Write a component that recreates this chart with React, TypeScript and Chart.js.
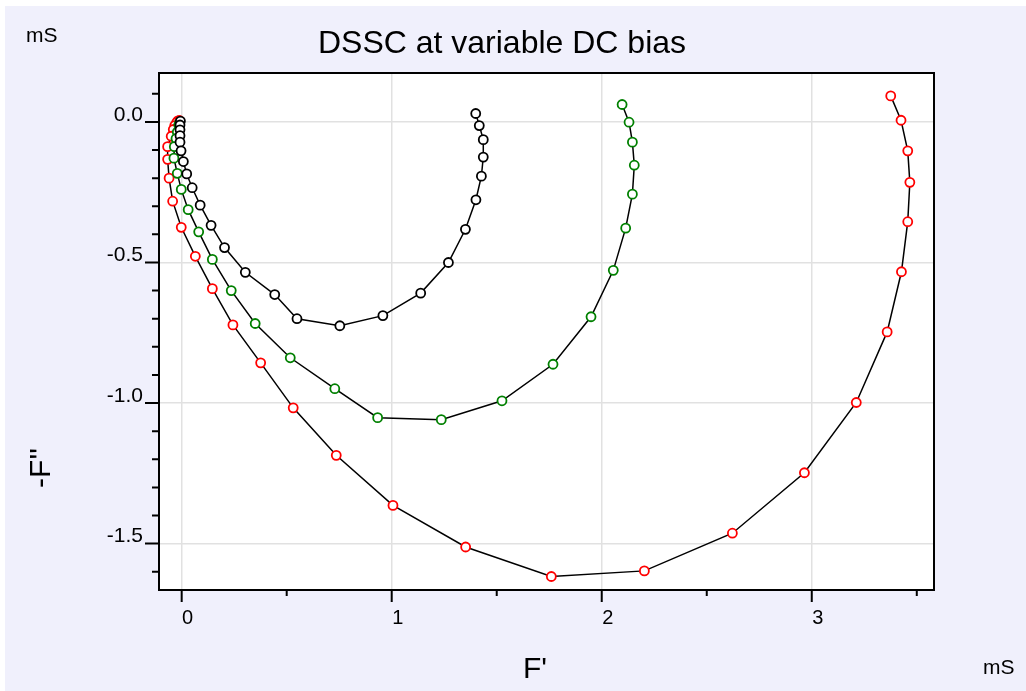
import { useEffect, useRef } from 'react';
import { Chart, registerables } from 'chart.js';

Chart.register(...registerables);

// Series (F' in mS, -F'' in mS)
const blackX = [-0.006, -0.008, -0.008, -0.008, -0.008, -0.003, 0.008, 0.024, 0.05, 0.088, 0.14, 0.204, 0.303, 0.443, 0.549, 0.753, 0.958, 1.138, 1.27, 1.351, 1.401, 1.427, 1.436, 1.436, 1.417, 1.4];
const blackY = [0.003, -0.011, -0.028, -0.049, -0.072, -0.103, -0.141, -0.185, -0.234, -0.296, -0.368, -0.447, -0.535, -0.614, -0.7, -0.725, -0.689, -0.609, -0.5, -0.382, -0.277, -0.193, -0.125, -0.063, -0.013, 0.03];

const greenX = [-0.01, -0.014, -0.021, -0.027, -0.035, -0.037, -0.021, -0.002, 0.031, 0.081, 0.146, 0.236, 0.35, 0.517, 0.729, 0.933, 1.236, 1.525, 1.768, 1.949, 2.055, 2.114, 2.146, 2.155, 2.146, 2.13, 2.097];
const greenY = [-0.003, -0.011, -0.036, -0.059, -0.088, -0.129, -0.183, -0.24, -0.312, -0.391, -0.489, -0.6, -0.717, -0.839, -0.949, -1.052, -1.059, -0.992, -0.862, -0.693, -0.528, -0.378, -0.257, -0.154, -0.072, -0.001, 0.062];

const redX = [-0.011, -0.018, -0.024, -0.033, -0.04, -0.05, -0.067, -0.067, -0.06, -0.043, -0.002, 0.065, 0.146, 0.244, 0.376, 0.531, 0.736, 1.006, 1.352, 1.76, 2.203, 2.622, 2.965, 3.212, 3.359, 3.427, 3.457, 3.467, 3.457, 3.425, 3.376];
const redY = [0.005, 0.004, -0.002, -0.013, -0.027, -0.051, -0.088, -0.133, -0.2, -0.282, -0.375, -0.478, -0.593, -0.722, -0.857, -1.017, -1.186, -1.364, -1.512, -1.617, -1.597, -1.463, -1.248, -0.998, -0.747, -0.533, -0.355, -0.215, -0.103, 0.006, 0.0925];

const titleText = 'DSSC at variable DC bias';
const xTitle = "F'";
const yTitle = "-F''";
const unitText = 'mS';

const xMin = -0.108;
const xMax = 3.582;
const yMin = -1.665;
const yMax = 0.174;

const FONT = '"Liberation Sans", Arial, Helvetica, sans-serif';

const toPoints = (xs: number[], ys: number[]) => xs.map((x, i) => ({ x, y: ys[i] }));

const isMult = (v: number, step: number) => Math.abs(v / step - Math.round(v / step)) < 1e-6;

const decoPlugin = {
  id: 'deco',
  beforeDraw(chart: any) {
    const { ctx, chartArea: a } = chart;
    ctx.save();
    ctx.fillStyle = '#ffffff';
    ctx.fillRect(a.left, a.top, a.right - a.left, a.bottom - a.top);
    ctx.restore();
  },
  afterDraw(chart: any) {
    const { ctx, chartArea: a } = chart;
    const xs = chart.scales.x;
    const ys = chart.scales.y;
    ctx.save();
    // border box
    ctx.strokeStyle = '#000';
    ctx.lineWidth = 2;
    ctx.strokeRect(a.left, a.top, a.right - a.left, a.bottom - a.top);
    // tick marks
    ctx.lineWidth = 2;
    ctx.beginPath();
    xs.ticks.forEach((t: any) => {
      const px = xs.getPixelForValue(t.value);
      const len = isMult(t.value, 1) ? 12 : 6;
      ctx.moveTo(px, a.bottom);
      ctx.lineTo(px, a.bottom + len);
    });
    ys.ticks.forEach((t: any) => {
      const py = ys.getPixelForValue(t.value);
      const len = isMult(t.value, 0.5) ? 14 : 7;
      ctx.moveTo(a.left, py);
      ctx.lineTo(a.left - len, py);
    });
    ctx.stroke();
    // texts
    ctx.fillStyle = '#000';
    ctx.textBaseline = 'alphabetic';
    ctx.font = `32px ${FONT}`;
    ctx.textAlign = 'center';
    ctx.fillText(titleText, 497, 47);
    ctx.font = `21px ${FONT}`;
    ctx.textAlign = 'left';
    ctx.fillText(unitText, 21, 36);
    ctx.fillText(unitText, 978, 668);
    ctx.font = `30px ${FONT}`;
    ctx.fillText(xTitle, 518, 672);
    ctx.translate(45, 462);
    ctx.rotate(-Math.PI / 2);
    ctx.textAlign = 'center';
    ctx.fillText(yTitle, 0, 0);
    ctx.restore();
  },
};

export default function App() {
  const ref = useRef<HTMLCanvasElement | null>(null);

  useEffect(() => {
    if (!ref.current) return;
    const lineCommon = {
      showLine: true,
      borderColor: '#000000',
      borderWidth: 1.5,
      pointRadius: 4.5,
      pointBorderWidth: 1.8,
      pointBackgroundColor: '#ffffff',
      pointHoverRadius: 4.5,
    };
    const chart = new Chart(ref.current, {
      type: 'scatter',
      data: {
        datasets: [
          { ...lineCommon, label: 'black', data: toPoints(blackX, blackY), pointBorderColor: '#000000' },
          { ...lineCommon, label: 'green', data: toPoints(greenX, greenY), pointBorderColor: '#008000' },
          { ...lineCommon, label: 'red', data: toPoints(redX, redY), pointBorderColor: '#ff0000' },
        ],
      },
      options: {
        animation: false,
        responsive: false,
        events: [],
        layout: { padding: { left: 0, top: 67, right: 92, bottom: 0 } },
        plugins: { legend: { display: false }, title: { display: false }, tooltip: { enabled: false } },
        scales: {
          x: {
            type: 'linear',
            min: xMin,
            max: xMax,
            afterFit: (s: any) => { s.height = 101; },
            border: { display: false },
            grid: {
              drawTicks: false,
              lineWidth: 1.5,
              color: (c: any) => (c.tick && isMult(c.tick.value, 1) ? '#e1e1e1' : 'rgba(0,0,0,0)'),
            },
            ticks: {
              stepSize: 0.5,
              includeBounds: false,
              autoSkip: false,
              maxRotation: 0,
              padding: 16,
              labelOffset: 6,
              color: '#000',
              font: { family: FONT, size: 20 },
              callback: (v: any) => (isMult(Number(v), 1) ? String(Math.round(Number(v))) : ''),
            },
          },
          y: {
            type: 'linear',
            min: yMin,
            max: yMax,
            afterFit: (s: any) => { s.width = 154; },
            border: { display: false },
            grid: {
              drawTicks: false,
              lineWidth: 1.5,
              color: (c: any) => (c.tick && isMult(c.tick.value, 0.5) ? '#e1e1e1' : 'rgba(0,0,0,0)'),
            },
            ticks: {
              stepSize: 0.1,
              includeBounds: false,
              autoSkip: false,
              padding: 16,
              labelOffset: -7,
              color: '#000',
              font: { family: FONT, size: 21 },
              callback: (v: any) => (isMult(Number(v), 0.5) ? Number(v).toFixed(1) : ''),
            },
          },
        },
      },
      plugins: [decoPlugin],
    });
    return () => chart.destroy();
  }, []);

  return (
    <div style={{ position: 'fixed', left: 0, top: 0, width: 1026, height: 691, background: '#ffffff' }}>
      <div style={{ position: 'absolute', left: 5, top: 6, width: 1021, height: 685, background: '#f0f0fc' }}>
        <canvas ref={ref} width={1021} height={685} style={{ width: 1021, height: 685, display: 'block' }} />
      </div>
    </div>
  );
}
